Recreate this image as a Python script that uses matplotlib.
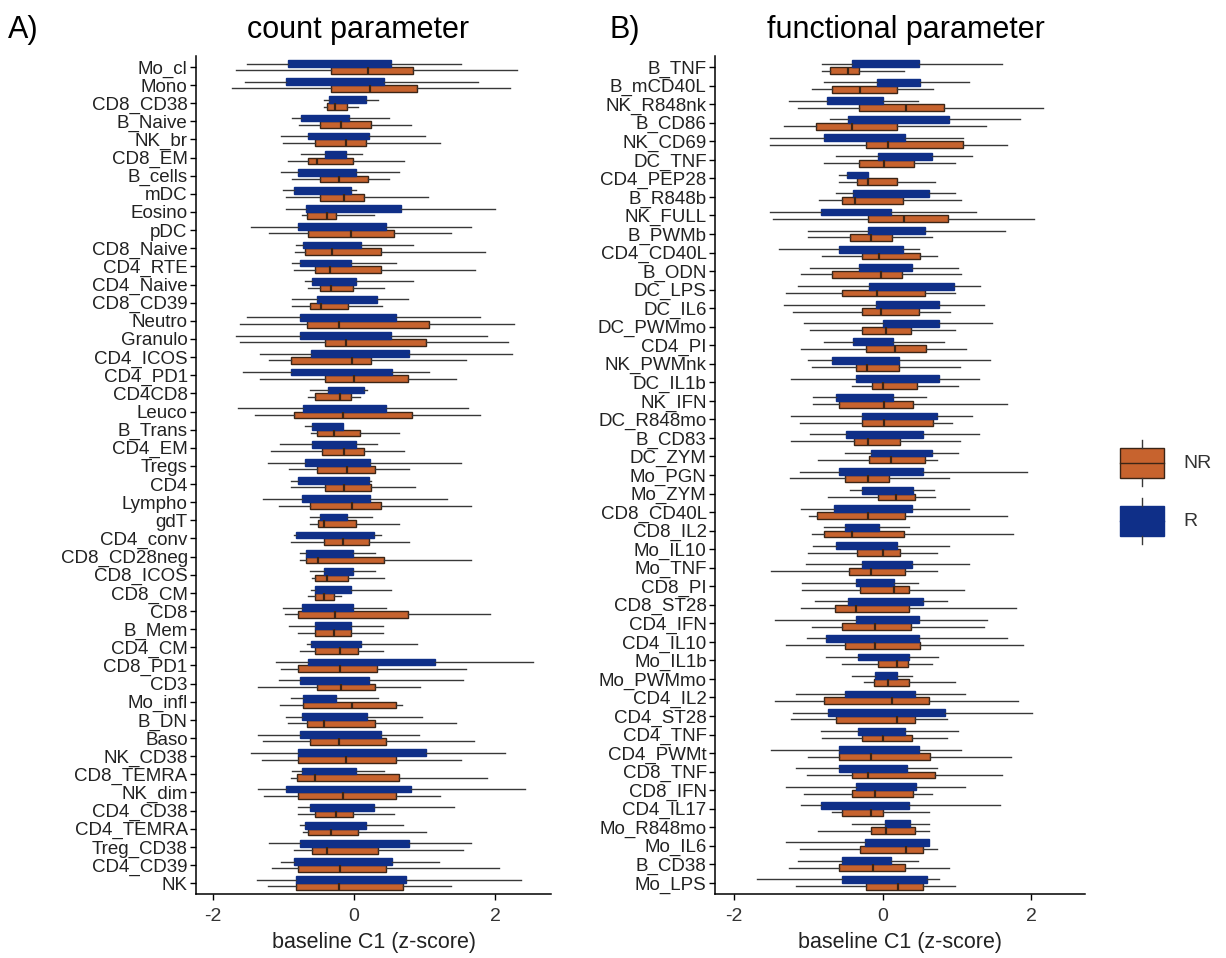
import matplotlib
matplotlib.use('Agg')
import matplotlib.pyplot as plt
from matplotlib.patches import Rectangle

plt.rcParams['font.family'] = ['Liberation Sans', 'DejaVu Sans']

blue = '#0f2f88'
orange = '#c7632e'
edge_nr = '#3b2516'
whisk = '#383838'

# ---- panel A: count parameter ----
labels_a = ['Mo_cl', 'Mono', 'CD8_CD38', 'B_Naive', 'NK_br', 'CD8_EM', 'B_cells', 'mDC',
            'Eosino', 'pDC', 'CD8_Naive', 'CD4_RTE', 'CD4_Naive', 'CD8_CD39', 'Neutro',
            'Granulo', 'CD4_ICOS', 'CD4_PD1', 'CD4CD8', 'Leuco', 'B_Trans', 'CD4_EM', 'Tregs',
            'CD4', 'Lympho', 'gdT', 'CD4_conv', 'CD8_CD28neg', 'CD8_ICOS', 'CD8_CM', 'CD8',
            'B_Mem', 'CD4_CM', 'CD8_PD1', 'CD3', 'Mo_infl', 'B_DN', 'Baso', 'NK_CD38',
            'CD8_TEMRA', 'NK_dim', 'CD4_CD38', 'CD4_TEMRA', 'Treg_CD38', 'CD4_CD39', 'NK']

a_r_lo = [-1.52, -1.54, -0.43, -0.88, -1.03, -0.75, -1.03, -1.01, -0.96, -1.46, -0.83, -0.88, -0.70, -0.88, -1.52, -1.68, -1.34, -1.58, -0.63, -1.64, -0.70, -1.05, -1.22, -0.90, -1.29, -0.63, -0.85, -0.77, -0.63, -0.61, -1.01, -0.92, -0.67, -1.10, -1.07, -0.90, -0.96, -1.36, -1.46, -0.88, -1.36, -0.79, -0.76, -1.20, -1.03, -1.38]
a_r_q1 = [-0.94, -0.97, -0.35, -0.75, -0.66, -0.41, -0.79, -0.85, -0.68, -0.79, -0.72, -0.77, -0.59, -0.53, -0.77, -0.77, -0.61, -0.90, -0.37, -0.72, -0.59, -0.59, -0.70, -0.79, -0.74, -0.49, -0.82, -0.68, -0.43, -0.56, -0.74, -0.56, -0.61, -0.66, -0.77, -0.72, -0.74, -0.77, -0.79, -0.74, -0.96, -0.63, -0.70, -0.77, -0.85, -0.83]
a_r_med = [-0.20, -0.25, -0.05, -0.40, -0.20, -0.25, -0.35, -0.40, -0.05, -0.15, -0.30, -0.40, -0.30, -0.10, -0.10, -0.10, 0.10, -0.20, -0.10, -0.10, -0.35, -0.30, -0.20, -0.30, -0.25, -0.30, -0.25, -0.35, -0.20, -0.30, -0.35, -0.30, -0.25, 0.20, -0.25, -0.50, -0.30, -0.20, 0.10, -0.35, -0.10, -0.15, -0.25, 0.00, -0.15, -0.05]
a_r_q3 = [0.52, 0.43, 0.17, -0.07, 0.21, -0.12, 0.03, -0.05, 0.67, 0.45, 0.10, -0.04, 0.02, 0.32, 0.60, 0.52, 0.78, 0.54, 0.14, 0.45, -0.16, 0.02, 0.23, 0.21, 0.23, -0.10, 0.28, -0.01, -0.01, -0.05, -0.01, -0.05, 0.10, 1.15, 0.21, -0.26, 0.18, 0.38, 1.02, 0.02, 0.81, 0.28, 0.17, 0.78, 0.54, 0.74]
a_r_hi = [1.51, 1.75, 0.34, 0.50, 1.00, 0.11, 0.64, 0.03, 1.99, 1.66, 0.84, 0.60, 0.84, 0.76, 1.79, 1.88, 2.24, 1.06, 0.18, 1.61, -0.16, 0.32, 1.52, 0.24, 1.31, 0.26, 0.38, 0.30, 0.30, 0.52, 0.45, 0.41, 0.89, 2.53, 1.55, 0.34, 0.96, 0.92, 2.14, 0.43, 2.42, 1.42, 0.69, 1.66, 1.20, 2.36]

a_nr_lo = [-1.68, -1.73, -0.43, -0.78, -1.01, -0.94, -0.88, -0.96, -0.74, -1.20, -0.84, -0.85, -0.66, -0.88, -1.62, -1.62, -1.20, -1.34, -0.66, -1.40, -0.61, -1.18, -0.92, -0.90, -1.07, -0.63, -0.90, -0.77, -0.59, -0.66, -0.98, -0.79, -0.77, -1.03, -1.36, -1.05, -0.94, -1.29, -1.31, -0.90, -1.27, -0.79, -0.73, -0.85, -1.16, -1.22]
a_nr_q1 = [-0.33, -0.33, -0.39, -0.49, -0.55, -0.66, -0.49, -0.48, -0.67, -0.66, -0.70, -0.56, -0.49, -0.63, -0.67, -0.41, -0.89, -0.41, -0.55, -0.85, -0.52, -0.45, -0.52, -0.41, -0.63, -0.51, -0.43, -0.68, -0.55, -0.55, -0.79, -0.56, -0.56, -0.79, -0.52, -0.72, -0.67, -0.63, -0.79, -0.81, -0.79, -0.55, -0.66, -0.59, -0.79, -0.83]
a_nr_med = [0.19, 0.22, -0.27, -0.19, -0.11, -0.53, -0.22, -0.14, -0.38, -0.05, -0.32, -0.34, -0.33, -0.47, -0.22, -0.11, -0.03, 0.00, -0.20, -0.16, -0.28, -0.14, -0.10, -0.14, -0.03, -0.43, -0.16, -0.51, -0.39, -0.42, -0.27, -0.29, -0.20, -0.20, -0.18, -0.03, -0.42, -0.22, -0.11, -0.55, -0.16, -0.25, -0.33, -0.38, -0.20, -0.22]
a_nr_q3 = [0.84, 0.89, -0.10, 0.24, 0.17, -0.01, 0.20, 0.14, -0.26, 0.56, 0.38, 0.38, -0.01, -0.08, 1.06, 1.02, 0.24, 0.76, -0.04, 0.82, 0.08, 0.14, 0.30, 0.24, 0.38, 0.02, 0.21, 0.43, -0.08, -0.28, 0.76, -0.05, 0.06, 0.32, 0.30, 0.59, 0.30, 0.45, 0.59, 0.64, 0.60, -0.01, 0.06, 0.34, 0.45, 0.69]
a_nr_hi = [2.31, 2.21, 0.06, 0.80, 1.22, 0.71, 0.49, 1.05, 0.28, 1.37, 1.85, 1.72, 0.43, 0.40, 2.27, 2.18, 1.59, 1.45, 0.09, 1.79, 0.63, 0.71, 0.78, 0.87, 1.66, 0.64, 0.78, 1.66, 0.43, -0.19, 1.92, 0.41, 0.41, 1.59, 0.93, 0.68, 1.45, 1.70, 1.52, 1.89, 1.22, 0.56, 1.02, 1.55, 2.05, 1.37]

# ---- panel B: functional parameter ----
labels_b = ['B_TNF', 'B_mCD40L', 'NK_R848nk', 'B_CD86', 'NK_CD69', 'DC_TNF', 'CD4_PEP28',
            'B_R848b', 'NK_FULL', 'B_PWMb', 'CD4_CD40L', 'B_ODN', 'DC_LPS', 'DC_IL6',
            'DC_PWMmo', 'CD4_PI', 'NK_PWMnk', 'DC_IL1b', 'NK_IFN', 'DC_R848mo', 'B_CD83',
            'DC_ZYM', 'Mo_PGN', 'Mo_ZYM', 'CD8_CD40L', 'CD8_IL2', 'Mo_IL10', 'Mo_TNF',
            'CD8_PI', 'CD8_ST28', 'CD4_IFN', 'CD4_IL10', 'Mo_IL1b', 'Mo_PWMmo', 'CD4_IL2',
            'CD4_ST28', 'CD4_TNF', 'CD4_PWMt', 'CD8_TNF', 'CD8_IFN', 'CD4_IL17', 'Mo_R848mo',
            'Mo_IL6', 'B_CD38', 'Mo_LPS']

b_r_lo = [-0.81, -0.79, -1.25, -0.70, -1.51, -0.63, -0.58, -0.63, -1.51, -1.00, -1.39, -0.97, -1.14, -1.32, -1.05, -0.79, -1.00, -1.23, -0.93, -1.23, -0.97, -0.51, -1.11, -0.44, -1.10, -0.79, -0.93, -1.03, -1.08, -0.91, -1.44, -1.02, -0.76, -0.41, -1.16, -1.20, -0.83, -1.50, -1.16, -1.29, -1.10, -0.41, -1.30, -1.14, -1.68]
b_r_q1 = [-0.41, -0.08, -0.74, -0.47, -0.78, -0.06, -0.48, -0.39, -0.83, -0.20, -0.59, -0.31, -0.18, -0.09, 0.01, -0.39, -0.68, -0.36, -0.62, -0.27, -0.49, -0.16, -0.58, -0.27, -0.65, -0.51, -0.62, -0.28, -0.35, -0.47, -0.35, -0.76, -0.33, -0.10, -0.51, -0.73, -0.33, -0.59, -0.59, -0.36, -0.83, 0.03, -0.24, -0.55, -0.54]
b_r_med = [0.00, 0.20, -0.35, 0.20, -0.25, 0.30, -0.30, 0.10, -0.35, 0.20, -0.15, 0.05, 0.40, 0.35, 0.40, -0.10, -0.20, 0.20, -0.25, 0.25, 0.00, 0.25, 0.00, 0.05, -0.10, -0.25, -0.20, 0.05, -0.10, 0.05, 0.05, -0.10, 0.00, 0.05, -0.05, 0.05, 0.00, -0.05, -0.15, 0.05, -0.20, 0.20, 0.20, -0.20, 0.05]
b_r_q3 = [0.49, 0.51, 0.01, 0.89, 0.30, 0.66, -0.19, 0.62, 0.12, 0.57, 0.27, 0.39, 0.96, 0.76, 0.76, 0.14, 0.22, 0.76, 0.14, 0.73, 0.54, 0.66, 0.54, 0.41, 0.39, -0.05, 0.19, 0.39, 0.16, 0.54, 0.49, 0.49, 0.36, 0.20, 0.44, 0.84, 0.30, 0.49, 0.33, 0.45, 0.36, 0.37, 0.62, 0.12, 0.60]
b_r_hi = [1.60, 1.16, 0.48, 1.85, 1.08, 1.20, -0.19, 0.97, 1.26, 1.64, 0.49, 1.02, 1.31, 1.36, 1.47, 0.83, 1.44, 1.29, 0.58, 1.20, 1.29, 1.01, 1.94, 0.69, 1.16, 0.35, 0.89, 1.16, 0.48, 0.87, 1.41, 1.67, 0.74, 0.39, 1.11, 2.01, 1.02, 1.06, 0.73, 1.11, 1.58, 0.62, 0.63, 0.48, 0.76]

b_nr_lo = [-0.81, -0.95, -1.14, -1.32, -1.51, -0.79, -0.58, -0.85, -1.47, -1.00, -0.81, -1.10, -1.30, -1.20, -0.97, -1.10, -0.95, -0.41, -0.93, -1.11, -1.23, -0.87, -1.24, -0.73, -0.99, -0.95, -1.00, -1.50, -1.08, -1.10, -0.95, -1.30, -0.54, -0.25, -1.45, -1.23, -0.81, -1.00, -1.02, -1.05, -0.68, -0.87, -1.11, -1.26, -1.16]
b_nr_q1 = [-0.70, -0.68, -0.32, -0.90, -0.22, -0.32, -0.34, -0.54, -0.20, -0.43, -0.27, -0.68, -0.54, -0.27, -0.27, -0.22, -0.36, -0.14, -0.58, -0.27, -0.38, -0.18, -0.51, -0.06, -0.88, -0.78, -0.34, -0.45, -0.30, -0.64, -0.54, -0.51, -0.06, -0.12, -0.78, -0.63, -0.27, -0.58, -0.41, -0.41, -0.55, -0.16, -0.30, -0.58, -0.22]
b_nr_med = [-0.46, -0.30, 0.31, -0.41, 0.08, 0.02, -0.19, -0.37, 0.29, -0.16, -0.05, -0.02, -0.08, -0.02, 0.05, 0.17, -0.21, 0.01, 0.02, 0.02, -0.20, 0.12, -0.19, 0.18, -0.19, -0.41, 0.00, -0.16, 0.16, -0.35, -0.10, -0.10, 0.19, 0.08, 0.13, 0.19, 0.00, -0.15, -0.19, -0.10, -0.16, 0.05, 0.31, -0.13, 0.21]
b_nr_q3 = [-0.31, 0.20, 0.82, 0.20, 1.08, 0.42, 0.20, 0.28, 0.88, 0.13, 0.51, 0.26, 0.57, 0.49, 0.38, 0.58, 0.22, 0.47, 0.41, 0.68, 0.23, 0.57, 0.09, 0.44, 0.30, 0.29, 0.24, 0.30, 0.36, 0.36, 0.38, 0.51, 0.34, 0.36, 0.62, 0.43, 0.39, 0.64, 0.70, 0.41, 0.01, 0.43, 0.55, 0.30, 0.55]
b_nr_hi = [0.29, 0.68, 2.16, 1.39, 1.67, 0.97, 0.70, 1.06, 2.04, 0.66, 0.73, 1.06, 0.97, 0.91, 0.97, 1.12, 1.04, 1.01, 1.67, 0.94, 1.04, 0.73, 0.89, 0.70, 1.67, 1.75, 0.73, 0.73, 1.10, 1.79, 1.37, 1.89, 0.66, 0.97, 1.82, 0.87, 0.87, 1.72, 1.60, 0.66, 0.62, 0.62, 0.73, 0.89, 0.97]


def stats(lo, q1, med, q3, hi):
    return [dict(whislo=a, q1=b, med=c, q3=d, whishi=e, fliers=[])
            for a, b, c, d, e in zip(lo, q1, med, q3, hi)]


def panel(ax, labels, r, nr, xlim):
    n = len(labels)
    pos = list(range(n))
    w = 0.37
    ax.bxp(stats(*nr), positions=[p + w / 2 for p in pos], widths=w, vert=False,
           patch_artist=True, showcaps=False, showfliers=False,
           boxprops=dict(facecolor=orange, edgecolor=edge_nr, linewidth=1.0),
           medianprops=dict(color=edge_nr, linewidth=1.6),
           whiskerprops=dict(color=whisk, linewidth=1.0))
    ax.bxp(stats(*r), positions=[p - w / 2 for p in pos], widths=w, vert=False,
           patch_artist=True, showcaps=False, showfliers=False,
           boxprops=dict(facecolor=blue, edgecolor=blue, linewidth=1.0),
           medianprops=dict(color=blue, linewidth=1.0),
           whiskerprops=dict(color=whisk, linewidth=1.0))
    ax.set_yticks(pos)
    ax.set_yticklabels(labels, fontsize=13.5, color='#222222')
    ax.set_ylim(n - 1 + 0.6, -0.6)
    ax.set_xlim(*xlim)
    ax.set_xticks([-2, 0, 2])
    ax.set_xticklabels(['-2', '0', '2'], fontsize=14, color='#333333')
    ax.set_xlabel('baseline C1 (z-score)', fontsize=15.5, labelpad=5, color='#222222')
    for s in ['top', 'right']:
        ax.spines[s].set_visible(False)
    for s in ['left', 'bottom']:
        ax.spines[s].set_linewidth(1.1)
    ax.tick_params(length=4, width=1.0)
    ax.tick_params(axis='x', pad=6)
    ax.tick_params(axis='y', pad=2)


fig = plt.figure(figsize=(12.26, 9.58), dpi=100)
W, H = 1226, 958

ax1 = fig.add_axes([196 / W, 64 / H, 355 / W, 838 / H])
panel(ax1, labels_a, (a_r_lo, a_r_q1, a_r_med, a_r_q3, a_r_hi),
      (a_nr_lo, a_nr_q1, a_nr_med, a_nr_q3, a_nr_hi), (-2.24, 2.79))

ax2 = fig.add_axes([715 / W, 64 / H, 370 / W, 838 / H])
panel(ax2, labels_b, (b_r_lo, b_r_q1, b_r_med, b_r_q3, b_r_hi),
      (b_nr_lo, b_nr_q1, b_nr_med, b_nr_q3, b_nr_hi), (-2.25, 2.72))

fig.text(8 / W, 1 - 30 / H, 'A)', fontsize=22, va='center', ha='left')
fig.text(358 / W, 1 - 30 / H, 'count parameter', fontsize=22, va='center', ha='center')
fig.text(609 / W, 1 - 30 / H, 'B)', fontsize=22, va='center', ha='left')
fig.text(906 / W, 1 - 30 / H, 'functional parameter', fontsize=22, va='center', ha='center')

# legend keys drawn as small boxplots
lg = fig.add_axes([1110 / W, (958 - 555) / H, 60 / W, 117 / H])
lg.set_xlim(0, 60)
lg.set_ylim(117, 0)
lg.axis('off')
for top, col, ec, name in [(10, orange, edge_nr, 'NR'), (68, blue, blue, 'R')]:
    lg.plot([32, 32], [top - 8, top], color=whisk, lw=1.0)
    lg.plot([32, 32], [top + 30, top + 38], color=whisk, lw=1.0)
    lg.add_patch(Rectangle((10, top), 44, 30, facecolor=col, edgecolor=ec, lw=1.0))
    lg.plot([10, 54], [top + 15, top + 15], color=ec, lw=1.0)
    fig.text(1183 / W, 1 - (438 + top + 15) / H, name, fontsize=14, va='center', ha='left',
             color='#333333')

fig.savefig('out.png', dpi=100)
